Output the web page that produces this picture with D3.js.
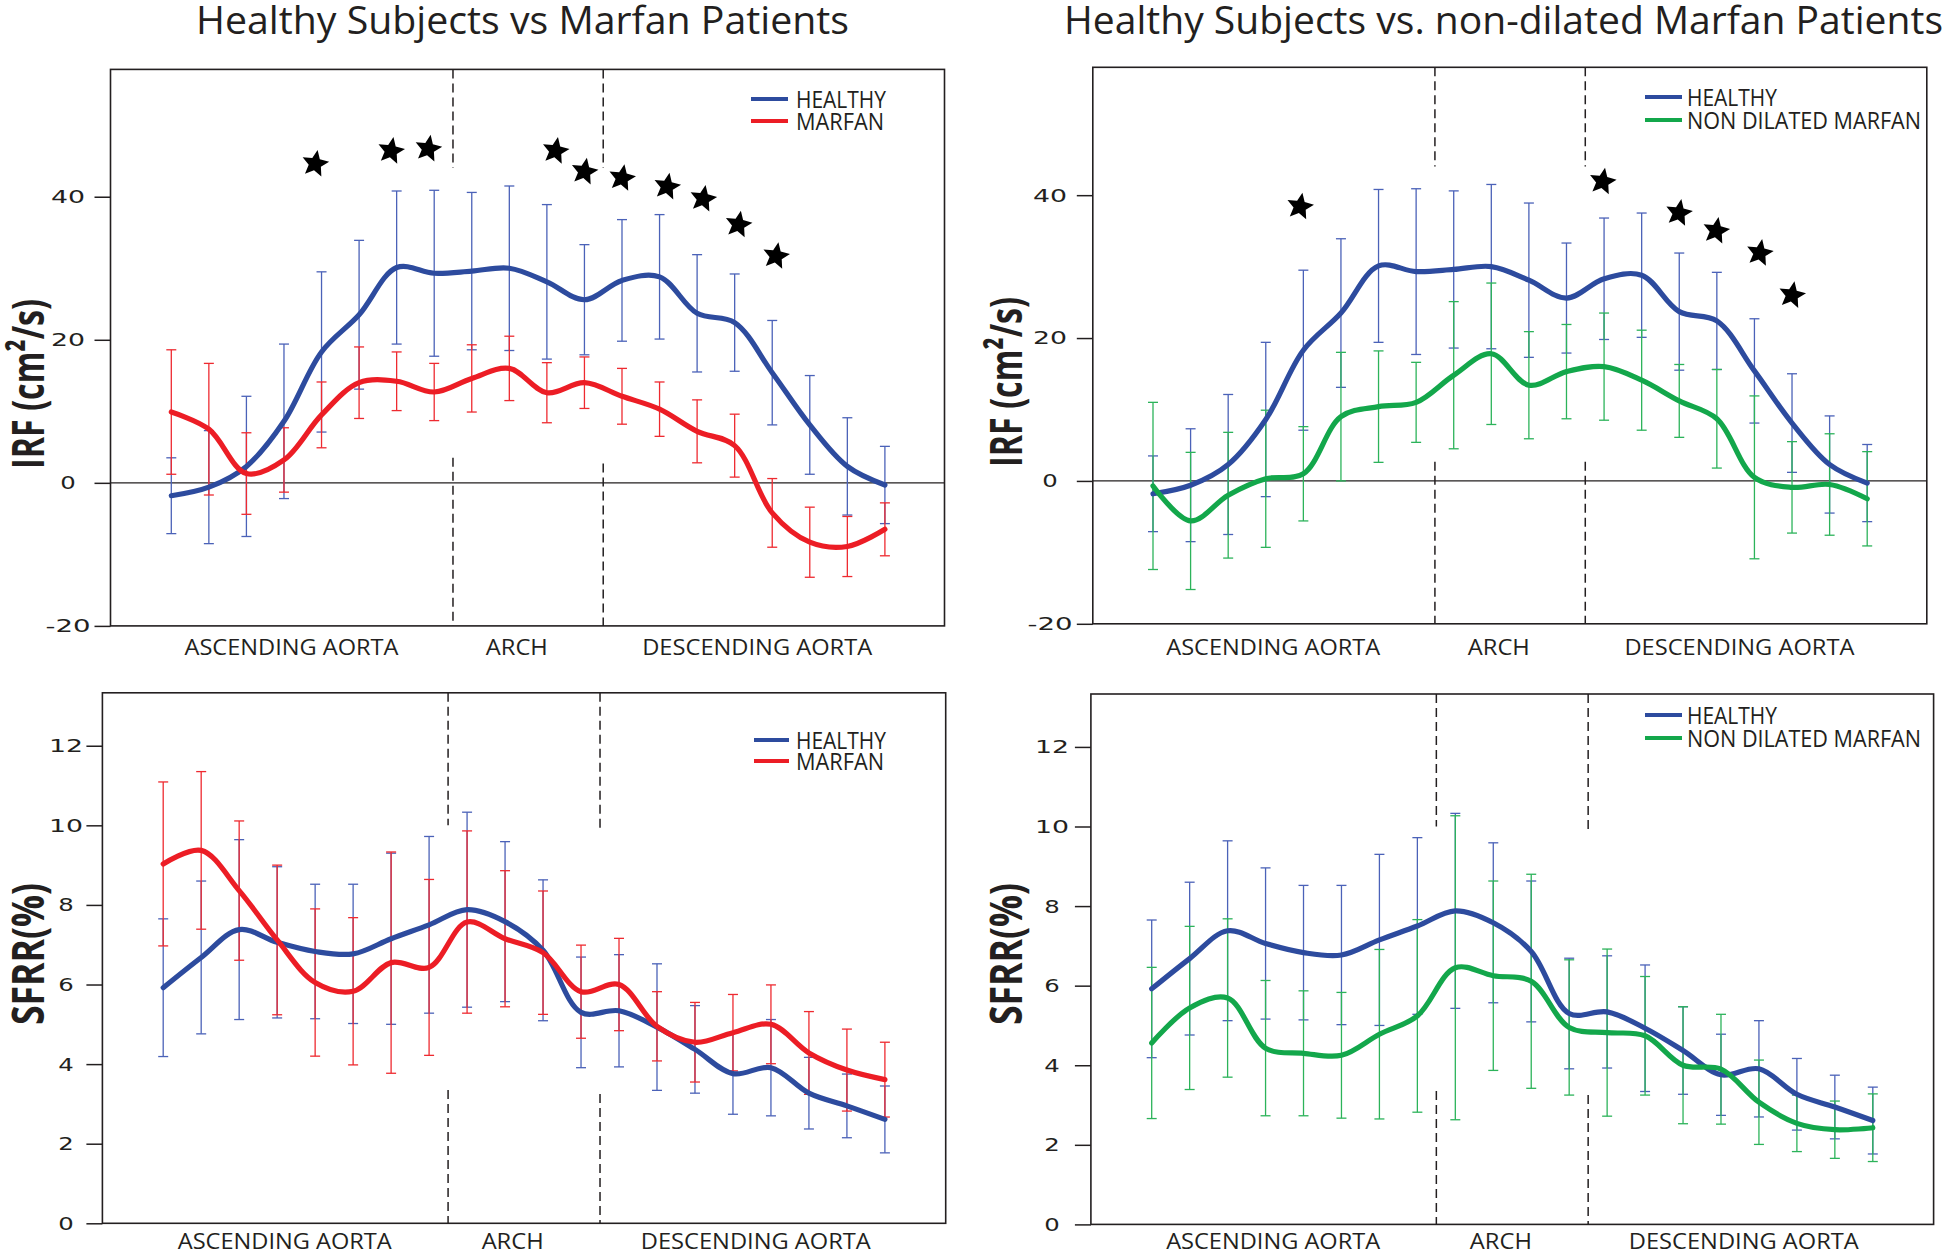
<!DOCTYPE html>
<html>
<head>
<meta charset="utf-8">
<script src="https://cdn.jsdelivr.net/npm/d3@7"></script>
<style>
  body { margin: 0; background: #fff; }
  svg { display: block; }
</style>
</head>
<body>
<svg id="chart" width="1946" height="1252"></svg>
<script>
// aortic segments along the x axis (positions are station indices 0..19)
var segments = ['ASCENDING AORTA', 'ARCH', 'DESCENDING AORTA'];
var segmentCenters = [3.2, 9.2, 15.6];
var segmentBounds = [7.5, 11.5];

var irfTicks = [-20, 0, 20, 40];
var sfrrTicks = [0, 2, 4, 6, 8, 10, 12];

// IRF (cm2/s), mean and SD per station
var irfHealthyMean = [-1.8, -0.6, 2.3, 8.6, 18.3, 23.5, 30.1, 29.3, 29.6, 30.0, 28.1, 25.6, 28.3, 28.8, 23.7, 22.4, 15.4, 8.1, 2.3, -0.3];
var irfHealthySd = [5.3, 7.9, 9.8, 10.8, 11.2, 10.4, 10.7, 11.6, 11.0, 11.5, 10.8, 7.7, 8.5, 8.7, 8.2, 6.8, 7.3, 6.9, 6.8, 5.4];
var irfMarfanMean = [9.9, 7.5, 1.3, 3.2, 9.5, 14.0, 14.2, 12.7, 14.6, 16.0, 12.6, 14.0, 12.1, 10.3, 7.2, 5.2, -4.2, -8.3, -8.9, -6.5];
var irfMarfanSd = [8.7, 9.2, 5.7, 4.5, 4.6, 5.0, 4.1, 4.0, 4.7, 4.5, 4.2, 3.6, 3.9, 3.8, 4.4, 4.4, 4.8, 4.9, 4.2, 3.7];
var irfNonDilMean = [-0.7, -5.6, -2.0, 0.3, 1.0, 9.0, 10.4, 11.0, 14.8, 17.8, 13.4, 15.3, 16.0, 14.1, 11.2, 8.7, 0.5, -0.9, -0.5, -2.5];
var irfNonDilSd = [11.7, 9.6, 8.8, 9.6, 6.6, 9.0, 7.8, 5.6, 10.3, 9.9, 7.5, 6.6, 7.5, 7.0, 5.1, 6.9, 11.4, 6.4, 7.1, 6.6];

// SFRR (%), mean and SD per station
var sfrrHealthyMean = [5.92, 6.68, 7.38, 7.06, 6.83, 6.77, 7.15, 7.5, 7.88, 7.58, 6.86, 5.3, 5.34, 4.93, 4.37, 3.76, 3.91, 3.27, 2.95, 2.61];
var sfrrHealthySd = [1.73, 1.92, 2.26, 1.9, 1.69, 1.75, 2.15, 2.22, 2.45, 2.01, 1.77, 1.39, 1.41, 1.59, 1.1, 1.02, 1.21, 0.9, 0.8, 0.84];
var sfrrMarfanMean = [9.03, 9.37, 8.36, 7.12, 6.05, 5.83, 6.55, 6.43, 7.57, 7.15, 6.8, 5.82, 6.0, 4.95, 4.55, 4.79, 5.0, 4.28, 3.85, 3.61];
var sfrrMarfanSd = [2.06, 1.98, 1.75, 1.88, 1.85, 1.85, 2.78, 2.21, 2.29, 1.71, 1.55, 1.17, 1.16, 0.87, 1.0, 0.96, 0.99, 1.04, 1.03, 0.94];
var sfrrNonDilMean = [4.56, 5.44, 5.69, 4.43, 4.3, 4.25, 4.78, 5.24, 6.45, 6.25, 6.11, 4.95, 4.82, 4.74, 4.0, 3.9, 3.07, 2.54, 2.38, 2.43];
var sfrrNonDilSd = [1.9, 2.05, 1.99, 1.7, 1.57, 1.58, 2.13, 2.42, 3.82, 2.38, 2.69, 1.7, 2.1, 1.49, 1.47, 1.38, 1.06, 0.71, 0.72, 0.85];

// significance stars (station position, IRF value)
var starsMarfanX = [3.83, 5.85, 6.84, 10.23, 11.0, 12.0, 13.2, 14.16, 15.1, 16.1];
var starsMarfanY = [44.6, 46.4, 46.7, 46.4, 43.5, 42.6, 41.4, 39.7, 36.1, 31.7];
var starsNonDilX = [3.91, 11.96, 13.99, 14.98, 16.14, 17.0];
var starsNonDilY = [38.4, 41.9, 37.5, 35.0, 31.9, 26.0];

var BLUE = '#2d4b9e', BLUE_BAR = '#4b62b8';
var RED = '#ec1d25', RED_BAR = '#ee2a30';
var GREEN = '#13a74b', GREEN_BAR = '#2cb35a';
var INK = '#231f20';
var FONT = '"Open Sans", "Noto Sans", sans-serif';

var healthyIrf = {name: 'HEALTHY', mean: irfHealthyMean, sd: irfHealthySd, color: BLUE, bar: BLUE_BAR, len: 90};
var marfanIrf = {name: 'MARFAN', mean: irfMarfanMean, sd: irfMarfanSd, color: RED, bar: RED_BAR, len: 88};
var nonDilIrf = {name: 'NON DILATED MARFAN', mean: irfNonDilMean, sd: irfNonDilSd, color: GREEN, bar: GREEN_BAR, len: 234};
var healthySfrr = {name: 'HEALTHY', mean: sfrrHealthyMean, sd: sfrrHealthySd, color: BLUE, bar: BLUE_BAR, len: 90};
var marfanSfrr = {name: 'MARFAN', mean: sfrrMarfanMean, sd: sfrrMarfanSd, color: RED, bar: RED_BAR, len: 88};
var nonDilSfrr = {name: 'NON DILATED MARFAN', mean: sfrrNonDilMean, sd: sfrrNonDilSd, color: GREEN, bar: GREEN_BAR, len: 234};

var panels = [
    {
        title: 'Healthy Subjects vs Marfan Patients', titleX: 196, titleLen: 653,
        left: 110.5, right: 944.5, top: 69.4, bottom: 625.9, x0: 171.3, x1: 884.9,
        yMin: -20, yMax: 57.8, ticks: irfTicks, tickLabelX: 68, zero: true,
        yLabel: 'IRF (cm\u00b2/s)', yLabelX: 44, yLabelY: 384, yLabelLen: 170,
        dash: [[44, 3.5], [44, 2.7]], labelY: 655,
        legend: {x0: 751, x1: 788, tx: 796, y: [99, 121]},
        series: [healthyIrf, marfanIrf], starsX: starsMarfanX, starsY: starsMarfanY
    },
    {
        title: 'Healthy Subjects vs. non-dilated Marfan Patients', titleX: 1064, titleLen: 879,
        left: 1092.8, right: 1926.8, top: 67.3, bottom: 623.8, x0: 1153, x1: 1867.2,
        yMin: -20, yMax: 57.9, ticks: irfTicks, tickLabelX: 1050, zero: true,
        yLabel: 'IRF (cm\u00b2/s)', yLabelX: 1022, yLabelY: 382, yLabelLen: 170,
        dash: [[44, 2.7], [44, 2.7]], labelY: 655,
        legend: {x0: 1645, x1: 1682, tx: 1687, y: [97, 120]},
        series: [healthyIrf, nonDilIrf], starsX: starsNonDilX, starsY: starsNonDilY
    },
    {
        left: 102.4, right: 945.7, top: 692.8, bottom: 1223.3, x0: 163.2, x1: 884.9,
        yMin: 0, yMax: 13.33, ticks: sfrrTicks, tickLabelX: 66, zero: false,
        yLabel: 'SFRR(%)', yLabelX: 44, yLabelY: 954, yLabelLen: 142,
        dash: [[10.0, 3.35], [9.88, 3.25]], labelY: 1249,
        legend: {x0: 754, x1: 789, tx: 796, y: [740, 761]},
        series: [healthySfrr, marfanSfrr]
    },
    {
        left: 1090.9, right: 1933.6, top: 694, bottom: 1224.4, x0: 1151.7, x1: 1872.8,
        yMin: 0, yMax: 13.33, ticks: sfrrTicks, tickLabelX: 1052, zero: false,
        yLabel: 'SFRR(%)', yLabelX: 1022, yLabelY: 954, yLabelLen: 142,
        dash: [[10.0, 3.35], [9.88, 3.25]], labelY: 1249,
        legend: {x0: 1645, x1: 1682, tx: 1687, y: [715, 738]},
        series: [healthySfrr, nonDilSfrr]
    }
];

var svg = d3.select('#chart');
svg.append('rect').attr('width', 1946).attr('height', 1252).attr('fill', '#fff');

// a fatter five-pointed star than d3.symbolStar
var fatStar = {
    draw: function (context, size) {
        var r = Math.sqrt(size), ri = r * 0.46;
        for (var k = 0; k < 10; k++) {
            var a = -Math.PI / 2 + k * Math.PI / 5;
            var rr = k % 2 ? ri : r;
            if (k === 0) context.moveTo(rr * Math.cos(a), rr * Math.sin(a));
            else context.lineTo(rr * Math.cos(a), rr * Math.sin(a));
        }
        context.closePath();
    }
};

function tickLen(s) {
    var digits = s.replace(/[^0-9]/g, '').length;
    if (digits === 1) return 15.5;
    return digits * 17 + (s.length > digits ? 11 : 0);
}

function drawPanel(p) {
    var g = svg.append('g');
    var n = p.series[0].mean.length;
    var x = d3.scaleLinear().domain([0, n - 1]).range([p.x0, p.x1]);
    var y = d3.scaleLinear().domain([p.yMin, p.yMax]).range([p.bottom, p.top]);

    if (p.title) {
        svg.append('text')
            .attr('x', p.titleX).attr('y', 34)
            .attr('textLength', p.titleLen).attr('lengthAdjust', 'spacingAndGlyphs')
            .style('font-family', FONT).style('font-size', '39px').attr('fill', INK)
            .text(p.title);
    }

    // section separators, broken in the middle
    segmentBounds.forEach(function (b, i) {
        var xb = x(b);
        g.append('line').attr('x1', xb).attr('x2', xb)
            .attr('y1', p.top).attr('y2', y(p.dash[i][0]))
            .attr('stroke', INK).attr('stroke-width', 1.5).attr('stroke-dasharray', '9,5');
        g.append('line').attr('x1', xb).attr('x2', xb)
            .attr('y1', y(p.dash[i][1])).attr('y2', p.bottom)
            .attr('stroke', INK).attr('stroke-width', 1.5).attr('stroke-dasharray', '9,5');
    });

    if (p.zero) {
        g.append('line').attr('x1', p.left).attr('x2', p.right)
            .attr('y1', y(0)).attr('y2', y(0))
            .attr('stroke', INK).attr('stroke-width', 1.4);
    }

    // error bars
    p.series.forEach(function (s) {
        var bars = g.append('g').attr('stroke', s.bar).attr('stroke-width', 1.3);
        s.mean.forEach(function (m, i) {
            var lo = y(m - s.sd[i]), hi = y(m + s.sd[i]), xi = x(i);
            bars.append('line').attr('x1', xi).attr('x2', xi).attr('y1', lo).attr('y2', hi);
            bars.append('line').attr('x1', xi - 5).attr('x2', xi + 5).attr('y1', lo).attr('y2', lo);
            bars.append('line').attr('x1', xi - 5).attr('x2', xi + 5).attr('y1', hi).attr('y2', hi);
        });
    });

    // smoothed mean curves
    var line = d3.line()
        .x(function (d, i) { return x(i); })
        .y(function (d) { return y(d); })
        .curve(d3.curveCatmullRom.alpha(0.5));
    p.series.forEach(function (s) {
        g.append('path').attr('d', line(s.mean))
            .attr('fill', 'none').attr('stroke', s.color)
            .attr('stroke-width', 5.2).attr('stroke-linejoin', 'round').attr('stroke-linecap', 'round');
    });

    if (p.starsX) {
        var star = d3.symbol().type(fatStar).size(200);
        g.selectAll('path.star')
            .data(p.starsX)
            .enter()
            .append('path')
            .attr('class', 'star')
            .attr('d', star)
            .attr('transform', function (d, i) {
                return 'translate(' + x(d) + ',' + y(p.starsY[i]) + ') rotate(10)';
            })
            .attr('fill', '#000');
    }

    // frame
    g.append('rect')
        .attr('x', p.left).attr('y', p.top)
        .attr('width', p.right - p.left).attr('height', p.bottom - p.top)
        .attr('fill', 'none').attr('stroke', INK).attr('stroke-width', 1.6);

    // y axis
    var fmt = function (d) { return String(d); };
    var axis = g.append('g')
        .attr('transform', 'translate(' + p.left + ',0)')
        .call(d3.axisLeft(y).tickValues(p.ticks).tickSize(16).tickSizeOuter(0).tickFormat(fmt));
    axis.select('.domain').remove();
    axis.selectAll('.tick line').attr('stroke', INK).attr('stroke-width', 1.5);
    axis.selectAll('.tick text')
        .attr('x', p.tickLabelX - p.left)
        .attr('text-anchor', 'middle')
        .attr('fill', INK)
        .attr('textLength', function (d) { return tickLen(fmt(d)); })
        .attr('lengthAdjust', 'spacingAndGlyphs')
        .style('font-family', '"DejaVu Sans", sans-serif')
        .style('font-size', '18.5px');

    g.append('text')
        .attr('transform', 'translate(' + p.yLabelX + ',' + p.yLabelY + ') rotate(-90)')
        .attr('text-anchor', 'middle')
        .attr('textLength', p.yLabelLen).attr('lengthAdjust', 'spacingAndGlyphs')
        .style('font-family', FONT).style('font-weight', 700).style('font-size', '45px')
        .attr('fill', INK)
        .text(p.yLabel);

    // segment labels under the plot
    var segLens = [214, 62, 230];
    g.selectAll('text.segment')
        .data(segments)
        .enter()
        .append('text')
        .attr('class', 'segment')
        .attr('x', function (d, i) { return x(segmentCenters[i]); })
        .attr('y', p.labelY)
        .attr('text-anchor', 'middle')
        .attr('textLength', function (d, i) { return segLens[i]; })
        .attr('lengthAdjust', 'spacingAndGlyphs')
        .style('font-family', FONT).style('font-size', '22px')
        .attr('fill', INK)
        .text(function (d) { return d; });

    // legend
    p.series.forEach(function (s, i) {
        var ly = p.legend.y[i];
        g.append('line').attr('x1', p.legend.x0).attr('x2', p.legend.x1)
            .attr('y1', ly).attr('y2', ly)
            .attr('stroke', s.color).attr('stroke-width', 4.2);
        g.append('text')
            .attr('x', p.legend.tx).attr('y', ly + 8.5)
            .attr('textLength', s.len).attr('lengthAdjust', 'spacingAndGlyphs')
            .style('font-family', FONT).style('font-size', '23px')
            .attr('fill', INK)
            .text(s.name);
    });
}

panels.forEach(drawPanel);
</script>
</body>
</html>
